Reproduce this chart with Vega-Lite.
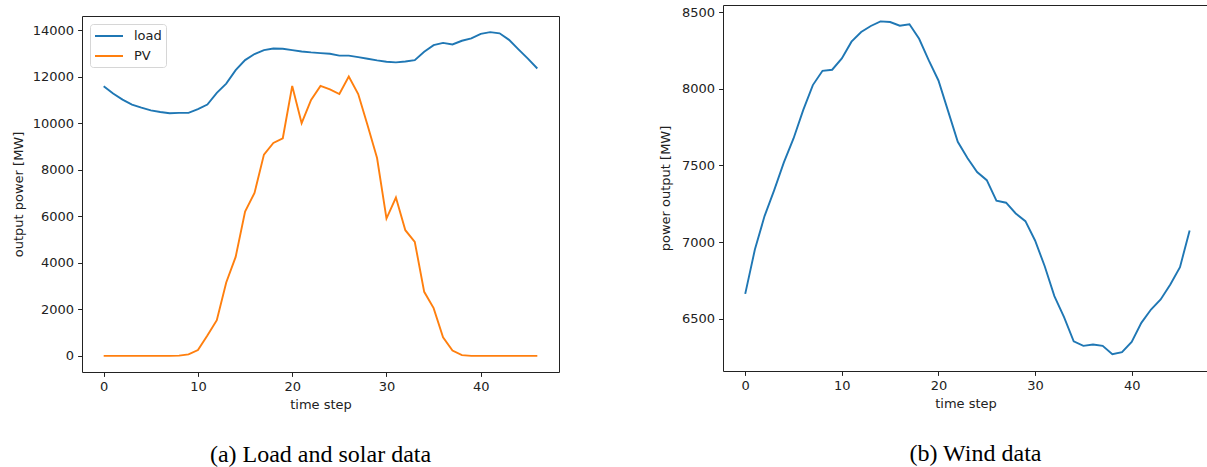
{
  "$schema": "https://vega.github.io/schema/vega-lite/v6.json",
  "background": "white",
  "padding": {"left": 12, "top": 4, "right": 0, "bottom": 0},
  "spacing": 100,
  "datasets": {
    "loadsolar": [
      {"t": 0, "series": "load", "mw": 11590}, {"t": 1, "series": "load", "mw": 11270}, {"t": 2, "series": "load", "mw": 11010},
      {"t": 3, "series": "load", "mw": 10800}, {"t": 4, "series": "load", "mw": 10670}, {"t": 5, "series": "load", "mw": 10550},
      {"t": 6, "series": "load", "mw": 10480}, {"t": 7, "series": "load", "mw": 10425}, {"t": 8, "series": "load", "mw": 10440},
      {"t": 9, "series": "load", "mw": 10440}, {"t": 10, "series": "load", "mw": 10600}, {"t": 11, "series": "load", "mw": 10800},
      {"t": 12, "series": "load", "mw": 11300}, {"t": 13, "series": "load", "mw": 11700}, {"t": 14, "series": "load", "mw": 12280},
      {"t": 15, "series": "load", "mw": 12710}, {"t": 16, "series": "load", "mw": 12970}, {"t": 17, "series": "load", "mw": 13140},
      {"t": 18, "series": "load", "mw": 13210}, {"t": 19, "series": "load", "mw": 13200}, {"t": 20, "series": "load", "mw": 13140},
      {"t": 21, "series": "load", "mw": 13080}, {"t": 22, "series": "load", "mw": 13040}, {"t": 23, "series": "load", "mw": 13010},
      {"t": 24, "series": "load", "mw": 12980}, {"t": 25, "series": "load", "mw": 12900}, {"t": 26, "series": "load", "mw": 12900},
      {"t": 27, "series": "load", "mw": 12840}, {"t": 28, "series": "load", "mw": 12770}, {"t": 29, "series": "load", "mw": 12700},
      {"t": 30, "series": "load", "mw": 12640}, {"t": 31, "series": "load", "mw": 12610}, {"t": 32, "series": "load", "mw": 12650},
      {"t": 33, "series": "load", "mw": 12710}, {"t": 34, "series": "load", "mw": 13070}, {"t": 35, "series": "load", "mw": 13350},
      {"t": 36, "series": "load", "mw": 13450}, {"t": 37, "series": "load", "mw": 13380}, {"t": 38, "series": "load", "mw": 13540},
      {"t": 39, "series": "load", "mw": 13640}, {"t": 40, "series": "load", "mw": 13840}, {"t": 41, "series": "load", "mw": 13910},
      {"t": 42, "series": "load", "mw": 13860}, {"t": 43, "series": "load", "mw": 13580}, {"t": 44, "series": "load", "mw": 13170},
      {"t": 45, "series": "load", "mw": 12770}, {"t": 46, "series": "load", "mw": 12350},
      {"t": 0, "series": "PV", "mw": 0}, {"t": 1, "series": "PV", "mw": 0}, {"t": 2, "series": "PV", "mw": 0},
      {"t": 3, "series": "PV", "mw": 0}, {"t": 4, "series": "PV", "mw": 0}, {"t": 5, "series": "PV", "mw": 0},
      {"t": 6, "series": "PV", "mw": 0}, {"t": 7, "series": "PV", "mw": 0}, {"t": 8, "series": "PV", "mw": 10},
      {"t": 9, "series": "PV", "mw": 60}, {"t": 10, "series": "PV", "mw": 250}, {"t": 11, "series": "PV", "mw": 870},
      {"t": 12, "series": "PV", "mw": 1530}, {"t": 13, "series": "PV", "mw": 3150}, {"t": 14, "series": "PV", "mw": 4250},
      {"t": 15, "series": "PV", "mw": 6200}, {"t": 16, "series": "PV", "mw": 7000}, {"t": 17, "series": "PV", "mw": 8650},
      {"t": 18, "series": "PV", "mw": 9150}, {"t": 19, "series": "PV", "mw": 9350}, {"t": 20, "series": "PV", "mw": 11600},
      {"t": 21, "series": "PV", "mw": 10000}, {"t": 22, "series": "PV", "mw": 11000}, {"t": 23, "series": "PV", "mw": 11600},
      {"t": 24, "series": "PV", "mw": 11450}, {"t": 25, "series": "PV", "mw": 11250}, {"t": 26, "series": "PV", "mw": 12000},
      {"t": 27, "series": "PV", "mw": 11250}, {"t": 28, "series": "PV", "mw": 9900}, {"t": 29, "series": "PV", "mw": 8500},
      {"t": 30, "series": "PV", "mw": 5900}, {"t": 31, "series": "PV", "mw": 6800}, {"t": 32, "series": "PV", "mw": 5400},
      {"t": 33, "series": "PV", "mw": 4900}, {"t": 34, "series": "PV", "mw": 2750}, {"t": 35, "series": "PV", "mw": 2050},
      {"t": 36, "series": "PV", "mw": 800}, {"t": 37, "series": "PV", "mw": 230}, {"t": 38, "series": "PV", "mw": 30},
      {"t": 39, "series": "PV", "mw": 0}, {"t": 40, "series": "PV", "mw": 0}, {"t": 41, "series": "PV", "mw": 0},
      {"t": 42, "series": "PV", "mw": 0}, {"t": 43, "series": "PV", "mw": 0}, {"t": 44, "series": "PV", "mw": 0},
      {"t": 45, "series": "PV", "mw": 0}, {"t": 46, "series": "PV", "mw": 0}
    ],
    "wind": [
      {"t": 0, "mw": 6663}, {"t": 1, "mw": 6952}, {"t": 2, "mw": 7170}, {"t": 3, "mw": 7339}, {"t": 4, "mw": 7520},
      {"t": 5, "mw": 7676}, {"t": 6, "mw": 7861}, {"t": 7, "mw": 8024}, {"t": 8, "mw": 8117}, {"t": 9, "mw": 8124},
      {"t": 10, "mw": 8198}, {"t": 11, "mw": 8307}, {"t": 12, "mw": 8370}, {"t": 13, "mw": 8409}, {"t": 14, "mw": 8439},
      {"t": 15, "mw": 8435}, {"t": 16, "mw": 8411}, {"t": 17, "mw": 8420}, {"t": 18, "mw": 8326}, {"t": 19, "mw": 8185},
      {"t": 20, "mw": 8054}, {"t": 21, "mw": 7854}, {"t": 22, "mw": 7654}, {"t": 23, "mw": 7548}, {"t": 24, "mw": 7457},
      {"t": 25, "mw": 7404}, {"t": 26, "mw": 7270}, {"t": 27, "mw": 7257}, {"t": 28, "mw": 7187}, {"t": 29, "mw": 7137},
      {"t": 30, "mw": 7011}, {"t": 31, "mw": 6843}, {"t": 32, "mw": 6648}, {"t": 33, "mw": 6511}, {"t": 34, "mw": 6354},
      {"t": 35, "mw": 6324}, {"t": 36, "mw": 6333}, {"t": 37, "mw": 6324}, {"t": 38, "mw": 6270}, {"t": 39, "mw": 6283},
      {"t": 40, "mw": 6350}, {"t": 41, "mw": 6474}, {"t": 42, "mw": 6561}, {"t": 43, "mw": 6626}, {"t": 44, "mw": 6724},
      {"t": 45, "mw": 6837}, {"t": 46, "mw": 7076}
    ]
  },
  "hconcat": [
    {
      "width": 477,
      "height": 367,
      "view": {"stroke": null},
      "title": {"text": "(a) Load and solar data", "orient": "bottom", "anchor": "middle", "offset": 32, "dx": 0},
      "layer": [
        {
          "data": {"name": "loadsolar"},
          "mark": {"type": "line", "strokeWidth": 1.9, "interpolate": "linear"},
          "encoding": {
            "x": {
              "field": "t", "type": "quantitative",
              "scale": {"domain": [-2.3, 48.3], "nice": false, "zero": false},
              "axis": {"values": [0, 10, 20, 30, 40], "title": "time step", "titlePadding": 5, "orient": "bottom", "domain": true, "domainColor": "#222", "domainWidth": 1}
            },
            "y": {
              "field": "mw", "type": "quantitative",
              "scale": {"domain": [-695, 14605], "range": [367, 11], "nice": false, "zero": false},
              "axis": {"values": [0, 2000, 4000, 6000, 8000, 10000, 12000, 14000], "format": "d", "title": "output power [MW]", "titlePadding": 7, "domain": true, "domainColor": "#222", "domainWidth": 1}
            },
            "color": {
              "field": "series", "type": "nominal",
              "scale": {"domain": ["load", "PV"], "range": ["#1f77b4", "#ff7f0e"]},
              "legend": {
                "title": null,
                "orient": "none",
                "legendX": 8,
                "legendY": 19,
                "padding": 4,
                "symbolType": "M-2,0H2",
                "symbolSize": 196,
                "symbolStrokeWidth": 2,
                "symbolOffset": 7,
                "labelOffset": 17,
                "rowPadding": 5,
                "labelFont": "DejaVu Sans",
                "labelFontSize": 13,
                "labelColor": "#222",
                "strokeColor": "#d6d6d6",
                "fillColor": "rgba(255,255,255,0.8)",
                "cornerRadius": 3
              }
            }
          }
        },
        {
          "data": {"name": "loadsolar"},
          "mark": {"type": "line", "opacity": 0},
          "encoding": {
            "x": {
              "field": "t", "type": "quantitative",
              "axis": {"orient": "top", "offset": -11, "labels": false, "ticks": false, "grid": false, "title": null, "domain": true, "domainColor": "#222", "domainWidth": 1}
            },
            "y": {
              "field": "mw", "type": "quantitative",
              "axis": {"orient": "right", "labels": false, "ticks": false, "grid": false, "title": null, "domain": true, "domainColor": "#222", "domainWidth": 1}
            },
            "detail": {"field": "series"}
          }
        }
      ],
      "resolve": {"axis": {"x": "independent", "y": "independent"}}
    },
    {
      "width": 485,
      "height": 366,
      "title": {"text": "(b) Wind data", "orient": "bottom", "anchor": "middle", "offset": 32, "dx": 10},
      "data": {"name": "wind"},
      "mark": {"type": "line", "strokeWidth": 1.9, "color": "#1f77b4"},
      "encoding": {
        "x": {
          "field": "t", "type": "quantitative",
          "scale": {"domain": [-2.3, 47.9], "nice": false, "zero": false},
          "axis": {"values": [0, 10, 20, 30, 40], "title": "time step", "titlePadding": 5}
        },
        "y": {
          "field": "mw", "type": "quantitative",
          "scale": {"domain": [6160, 8546], "nice": false, "zero": false},
          "axis": {"values": [6500, 7000, 7500, 8000, 8500], "format": "d", "title": "power output [MW]", "titlePadding": 9}
        }
      }
    }
  ],
  "config": {
    "view": {"stroke": "#222", "strokeWidth": 1},
    "axis": {
      "domain": false,
      "grid": false,
      "ticks": true,
      "tickSize": 4.4,
      "tickColor": "#222",
      "tickWidth": 1,
      "labelPadding": 4,
      "labelFont": "DejaVu Sans",
      "labelFontSize": 13,
      "labelColor": "#222",
      "titleFont": "DejaVu Sans",
      "titleFontSize": 13,
      "titleFontWeight": "normal",
      "titleColor": "#222",
      "titlePadding": 4
    },
    "title": {
      "font": "Liberation Serif",
      "fontSize": 24,
      "fontWeight": "normal",
      "color": "#000"
    }
  }
}
